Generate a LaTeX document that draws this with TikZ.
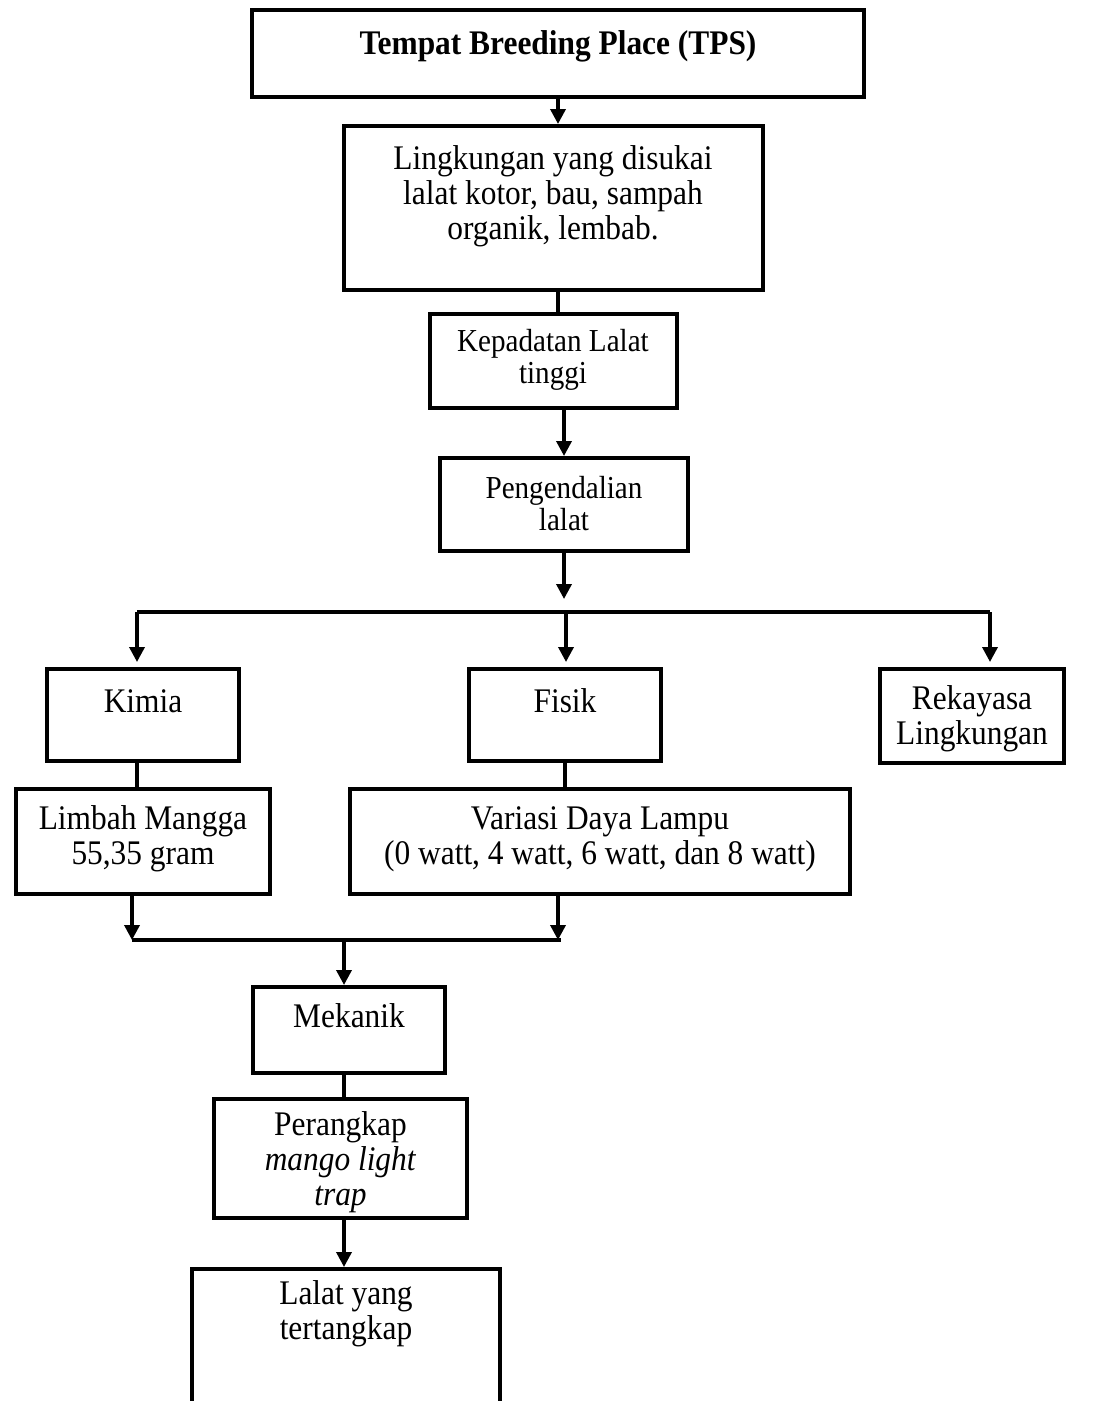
\documentclass[tikz,border=0pt]{standalone}
\usepackage{fontspec}
\setmainfont{Liberation Serif}[FakeStretch=0.91]
\usetikzlibrary{arrows.meta}
\begin{document}
\begin{tikzpicture}[x=1pt,y=-1pt,
  box/.style={draw, line width=4pt, inner sep=0pt},
  txt/.style={font=\fontsize{34.5}{35}\selectfont, align=center, inner sep=0pt},
  stxt/.style={font=\fontsize{32}{32}\selectfont, align=center, inner sep=0pt},
  arr/.style={line width=3.5pt, -{Triangle[width=15pt,length=15pt]}},
  ln/.style={line width=3.5pt}]
\useasboundingbox (0,0) rectangle (1103,1401);
\fill[white] (0,0) rectangle (1103,1401);
\clip (0,0) rectangle (1103,1401);

% boxes
\node[box, minimum width=612, minimum height=87] (tps) at (558,53.5) {};
\node[box, minimum width=419, minimum height=164] (ling) at (553.5,208) {};
\node[box, minimum width=247, minimum height=94] (kep) at (553.5,361) {};
\node[box, minimum width=248, minimum height=93] (peng) at (564,504.5) {};
\node[box, minimum width=192, minimum height=92] (kimia) at (143,715) {};
\node[box, minimum width=192, minimum height=92] (fisik) at (565,715) {};
\node[box, minimum width=184, minimum height=94] (rek) at (972,716) {};
\node[box, minimum width=254, minimum height=105] (limbah) at (143,841.5) {};
\node[box, minimum width=500, minimum height=105] (variasi) at (600,841.5) {};
\node[box, minimum width=192, minimum height=86] (mek) at (349,1030) {};
\node[box, minimum width=253, minimum height=119] (per) at (340.5,1158.5) {};
\node[box, minimum width=308, minimum height=181] (lalat) at (346,1359.5) {};

% texts
\node[txt] (tpsT) at (558,46) {\bfseries Tempat Breeding Place (TPS)};
\node[txt] (lingT) at (553,196) {Lingkungan yang disukai\\lalat kotor, bau, sampah\\organik, lembab.};
\node[stxt] (kepT) at (553,360) {Kepadatan Lalat\\tinggi};
\node[stxt] (pengT) at (564,504) {Pengendalian\\lalat};
\node[txt] (kimiaT) at (143,701) {Kimia};
\node[txt] (fisikT) at (565,701) {Fisik};
\node[txt] (rekT) at (972,719) {Rekayasa\\Lingkungan};
\node[txt] (limbahT) at (143,839) {Limbah Mangga\\55,35 gram};
\node[txt] (variasiT) at (600,839) {Variasi Daya Lampu\\(0 watt, 4 watt, 6 watt, dan 8 watt)};
\node[txt] (mekT) at (349,1016) {Mekanik};
\node[txt] (perT) at (340.5,1162) {Perangkap\\\textit{mango light}\\\textit{trap}};
\node[txt] (lalatT) at (346,1314) {Lalat yang\\tertangkap};

% coordinates
\coordinate (bL) at (137,612);
\coordinate (bM) at (566,612);
\coordinate (bR) at (990,612);
\coordinate (pEnd) at (564,599);
\coordinate (mL) at (132,940);
\coordinate (mV) at (558,940);
\coordinate (mR) at (561,940);
\coordinate (mM) at (344,940);

% connectors
\draw[arr] (tps.south) -- (tps.south |- ling.north);
\draw[ln] (tps.south |- ling.south) -- (tps.south |- kep.north);
\draw[arr] (peng.north |- kep.south) -- (peng.north);
\draw[arr] (peng.south) -- (pEnd);
\draw[ln] (bL) -- (bR);
\draw[arr, shorten >=5pt] (bL) -- (bL |- kimia.north);
\draw[arr, shorten >=5pt] (bM) -- (bM |- fisik.north);
\draw[arr, shorten >=5pt] (bR) -- (bR |- rek.north);
\draw[ln] (bL |- kimia.south) -- (bL |- limbah.north);
\draw[ln] (fisik.south) -- (variasi.north -| fisik.south);
\draw[ln] (mL) -- (mR);
\draw[arr] (mL |- limbah.south) -- (mL);
\draw[arr] (mV |- variasi.south) -- (mV);
\draw[arr] (mM) -- (mM |- mek.north);
\draw[ln] (mM |- mek.south) -- (mM |- per.north);
\draw[arr] (mM |- per.south) -- (mM |- lalat.north);
\end{tikzpicture}
\end{document}
